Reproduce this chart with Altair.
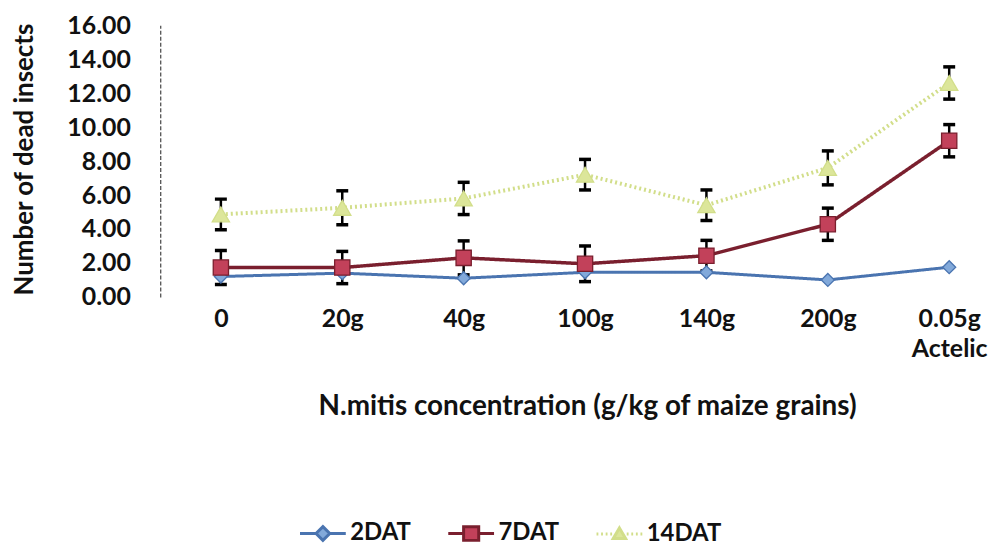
import altair as alt
import pandas as pd

# ---------------- data ----------------
categories = ["0", "20g", "40g", "100g", "140g", "200g", "0.05g\nActelic"]
series_names = ["2DAT", "7DAT", "14DAT"]
dat2 = [1.2, 1.4, 1.1, 1.45, 1.45, 1.0, 1.75]
dat7 = [1.73, 1.73, 2.3, 1.95, 2.43, 4.28, 9.2]
dat14 = [4.86, 5.25, 5.8, 7.2, 5.4, 7.6, 12.6]
err7 = [1.0, 0.95, 1.0, 1.05, 0.9, 0.95, 0.95]
err14 = [0.9, 1.0, 0.95, 0.9, 0.9, 1.0, 0.95]
ytick_values = [0, 2, 4, 6, 8, 10, 12, 14, 16]

x_title = "N.mitis concentration (g/kg  of maize grains)"
y_title = "Number of dead insects"

# ---------------- styling ----------------
stroke_colors = ["#4A74B0", "#7A1F2E", "#D2DE8A"]
fill_colors = ["#82A9DA", "#C2415A", "#DCE69A"]
shapes = ["diamond", "square", "triangle-up"]
sizes = [170, 300, 150]
dashes = [[1, 0], [1, 0], [2, 3]]
widths = [3, 4, 2.5]

legend_paths = [
    "M-1,0H-0.3M0.3,0H1M0,-0.3L0.3,0L0,0.3L-0.3,0Z",
    "M-1,0H-0.33M0.33,0H1M-0.33,-0.3H0.33V0.3H-0.33Z",
    "M-1,0H-0.92M-0.8,0H-0.72M-0.6,0H-0.52M-0.4,0H-0.32"
    "M0.32,0H0.4M0.52,0H0.6M0.72,0H0.8M0.92,0H1"
    "M0,-0.26L0.27,0.2L-0.27,0.2Z",
]

rows = []
for name, vals in zip(series_names, [dat2, dat7, dat14]):
    for c, v in zip(categories, vals):
        rows.append({"cat": c, "series": name, "value": v})
df = pd.DataFrame(rows)

err_rows = []
for name, vals, errs in [("7DAT", dat7, err7), ("14DAT", dat14, err14)]:
    for c, v, e in zip(categories, vals, errs):
        err_rows.append({"cat": c, "series": name, "lower": v - e, "upper": v + e})
df_err = pd.DataFrame(err_rows)

FONT = "Lato"

x_enc = alt.X(
    "cat:N",
    sort=categories,
    scale=alt.Scale(type="point", padding=0.4016, align=0.622),
    axis=alt.Axis(
        title=x_title,
        labelExpr="split(datum.label, '\\n')",
        labelAngle=0,
        domain=False,
        ticks=False,
        tickSize=0,
        labelPadding=10,
        labelFont=FONT,
        labelFontSize=25,
        labelFontWeight="bold",
        labelColor="#111111",
        labelLineHeight=30,
        labelBaseline="top",
        titleFont=FONT,
        titleFontSize=28,
        titleFontWeight="bold",
        titleColor="#111111",
        titleX=429,
        titleY=110,
        titleBaseline="middle",
        titleAlign="center",
    ),
)

y_axis = alt.Axis(
    values=ytick_values,
    format=".2f",
    grid=False,
    ticks=False,
    tickSize=0,
    labelPadding=30,
    domainDash=[4, 2],
    domainColor="#444444",
    domainWidth=1.2,
    labelFont=FONT,
    labelFontSize=25,
    labelFontWeight="bold",
    labelColor="#111111",
    title=y_title,
    titleFont=FONT,
    titleFontSize=26,
    titleFontWeight="bold",
    titleColor="#111111",
    titleX=-136,
    titleY=134.5,
    titleAngle=270,
    titleAlign="center",
    titleBaseline="middle",
)
y_scale = alt.Scale(domain=[0, 16], nice=False)


def sc(rng):
    return alt.Scale(domain=series_names, range=rng)


lines = alt.Chart(df).mark_line(interpolate="linear").encode(
    x=x_enc,
    y=alt.Y("value:Q", scale=y_scale, axis=y_axis),
    stroke=alt.Stroke("series:N", scale=sc(stroke_colors), legend=None),
    strokeDash=alt.StrokeDash("series:N", scale=sc(dashes), legend=None),
    strokeWidth=alt.StrokeWidth("series:N", scale=sc(widths), legend=None),
)

rules = alt.Chart(df_err).mark_rule(color="black", strokeWidth=2.5).encode(
    x=x_enc,
    y=alt.Y("lower:Q", scale=y_scale, axis=y_axis),
    y2="upper:Q",
)
tick_lo = alt.Chart(df_err).mark_tick(orient="horizontal", color="black", size=12, thickness=3.5, opacity=1).encode(
    x=x_enc,
    y=alt.Y("lower:Q", scale=y_scale, axis=y_axis),
)
tick_hi = alt.Chart(df_err).mark_tick(orient="horizontal", color="black", size=12, thickness=3.5, opacity=1).encode(
    x=x_enc,
    y=alt.Y("upper:Q", scale=y_scale, axis=y_axis),
)

points = alt.Chart(df).mark_point(filled=True, opacity=1, strokeWidth=1.3).encode(
    x=x_enc,
    y=alt.Y("value:Q", scale=y_scale, axis=y_axis),
    fill=alt.Fill("series:N", scale=sc(fill_colors), legend=None),
    stroke=alt.Stroke("series:N", scale=sc(stroke_colors), legend=None),
    shape=alt.Shape("series:N", scale=sc(shapes), legend=None),
    size=alt.Size("series:N", scale=sc(sizes), legend=None),
)

legend = alt.Legend(
    title=None,
    orient="none",
    legendX=139,
    legendY=486,
    direction="horizontal",
    symbolSize=2116,
    symbolStrokeWidth=3,
    columnPadding=30,
    labelOffset=3,
    padding=0,
    labelFont=FONT,
    labelFontSize=24,
    labelFontWeight="bold",
    labelColor="#111111",
)

# legend-only layer: no rows drawn, entries come from the explicit scale domain
legend_layer = alt.Chart(df).transform_filter("false").mark_point(
    filled=True, opacity=1, strokeWidth=3, size=2116
).encode(
    fill=alt.Fill("series:N", scale=sc(fill_colors), legend=legend),
    stroke=alt.Stroke("series:N", scale=sc(stroke_colors), legend=legend),
    shape=alt.Shape("series:N", scale=sc(legend_paths), legend=legend),
)

chart = (
    alt.layer(lines, rules, tick_lo, tick_hi, points, legend_layer)
    .resolve_scale(shape="independent", fill="independent", stroke="independent",
                   strokeDash="independent", strokeWidth="independent", size="independent")
    .properties(
        width=830,
        height=273,
        autosize=alt.AutoSizeParams(type="none"),
        padding={"left": 153, "top": 16, "right": 12, "bottom": 251},
        background="white",
    )
    .configure_view(stroke=None)
)

chart.save("out.html", embed_options={"renderer": "svg", "actions": False})
